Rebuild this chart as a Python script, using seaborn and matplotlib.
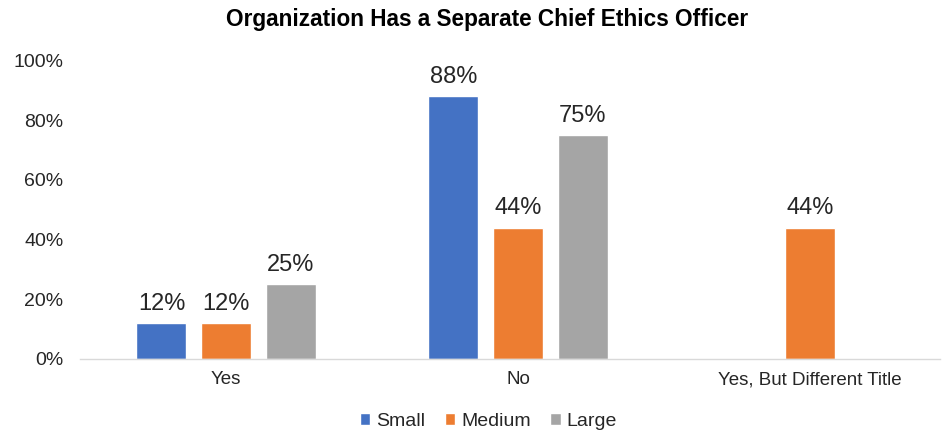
import matplotlib
matplotlib.use("Agg")
import matplotlib.pyplot as plt
import seaborn as sns
import pandas as pd
import numpy as np
from matplotlib.ticker import PercentFormatter

categories = ["Yes", "No", "Yes, But Different Title"]
sizes = ["Small", "Medium", "Large"]
small = [12, 88, np.nan]
medium = [12, 44, 44]
large = [25, 75, np.nan]
colors = ["#4472C4", "#ED7D31", "#A5A5A5"]

rows = []
for s, vals in zip(sizes, [small, medium, large]):
    for c, v in zip(categories, vals):
        rows.append({"Category": c, "Size": s, "Value": v})
df = pd.DataFrame(rows)

sns.set_theme(style="white")
plt.rcParams['font.family'] = ['Liberation Sans', 'DejaVu Sans']

fig = plt.figure(figsize=(9.43, 4.32), dpi=100)
ax = fig.add_axes([0.0848, 0.169, 0.912, 0.691])

sns.barplot(data=df, x="Category", y="Value", hue="Size", order=categories,
            hue_order=sizes, palette=colors, width=0.663, gap=0.225,
            saturation=1, ax=ax, legend=True)

for cont in ax.containers:
    labels = ["" if np.isnan(v) else f"{v:.0f}%" for v in cont.datavalues]
    ax.bar_label(cont, labels=labels, padding=6, fontsize=17, color="#262626")

ax.set_ylim(0, 100)
ax.set_xlim(-0.5, 2.445)
ax.set_yticks([0, 20, 40, 60, 80, 100])
ax.yaxis.set_major_formatter(PercentFormatter(decimals=0))
ax.tick_params(axis="y", labelsize=14, colors="#262626", length=0, pad=12)
ax.tick_params(axis="x", labelsize=13.5, colors="#262626", length=0, pad=9)
ax.set_xlabel("")
ax.set_ylabel("")
for sp in ["top", "right", "left"]:
    ax.spines[sp].set_visible(False)
ax.spines["bottom"].set_color("#D9D9D9")
ax.spines["bottom"].set_linewidth(1)

ax.set_title("Organization Has a Separate Chief Ethics Officer", fontsize=16.3,
             fontweight="bold", color="black", pad=25, x=0.473)

handles, labels = ax.get_legend_handles_labels()
ax.get_legend().remove()
fig.legend(handles, labels, loc="center", bbox_to_anchor=(0.518, 0.025), ncol=3,
           frameon=False, fontsize=14, handlelength=0.55, handleheight=0.55,
           handletextpad=0.3, columnspacing=1.0)

fig.savefig("out.png", dpi=100)
